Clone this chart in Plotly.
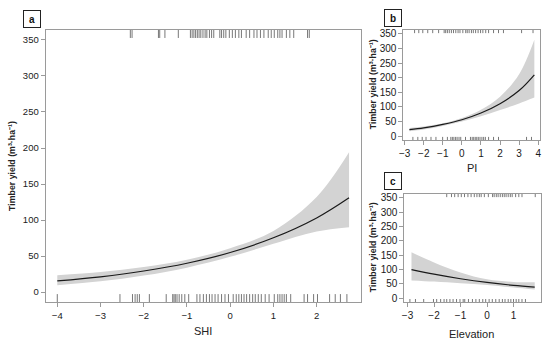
import plotly.graph_objects as go

# ---------------- data ----------------
# Panel a: SHI
shi_x = [-4, -3, -2, -1, 0, 1, 2, 2.75]
shi_fit = [15.6, 21.3, 29.3, 40.1, 55, 75.4, 103, 131]
shi_upper = [23.5, 28, 35, 45, 61, 85, 132, 194]
shi_lower = [9.6, 15, 23, 34, 49, 67, 84, 90]
shi_rug_top = [-2.31, -2.27, -1.66, -1.63, -1.51, -1.20, -0.92, -0.88, -0.84, -0.80, -0.76,
               -0.72, -0.68, -0.63, -0.58, -0.54, -0.48, -0.43, -0.38, -0.24, -0.20, -0.15,
               -0.10, -0.02, 0.05, 0.12, 0.20, 0.26, 0.37, 0.45, 0.55, 0.62, 0.70, 0.78,
               0.88, 0.95, 1.02, 1.10, 1.15, 1.20, 1.30, 1.38, 1.47, 1.79, 1.83]
shi_rug_bottom = [-4.0, -2.55, -2.26, -2.20, -2.15, -2.10, -1.87, -1.48, -1.33, -1.30, -1.27,
                  -1.23, -1.18, -1.12, -1.05, -0.96, -0.77, -0.70, -0.62, -0.55, -0.48, -0.42,
                  -0.35, -0.28, -0.20, -0.12, -0.04, 0.07, 0.14, 0.20, 0.26, 0.32, 0.38, 0.45,
                  0.52, 0.58, 0.65, 0.72, 0.81, 0.90, 1.02, 1.10, 1.15, 1.20, 1.25, 1.30, 1.40,
                  1.71, 1.79, 1.93, 2.02, 2.30, 2.43, 2.55, 2.70]

# Panel b: PI
pi_x = [-2.75, -2, -1, 0, 1, 2, 3, 3.8]
pi_fit = [22, 28, 40, 56, 79, 111, 156, 210]
pi_upper = [28, 33, 44, 62, 90, 135, 212, 330]
pi_lower = [17, 23, 35, 50, 68, 89, 112, 132]
pi_rug_top = [-2.48, -2.26, -2.05, -1.79, -1.53, -1.22, -0.93, -0.85, -0.76, -0.66, -0.55,
              -0.44, -0.32, -0.20, -0.10, 0.05, 0.20, 0.28, 0.38, 0.50, 0.60, 0.72, 0.85,
              0.98, 1.10, 1.25, 1.40, 1.66, 1.92, 2.18, 3.13, 3.73]
pi_rug_bottom = [-2.57, -2.31, -2.08, -1.88, -1.62, -1.36, -1.01, -0.76, -0.58, -0.50, -0.42,
                 -0.33, -0.25, -0.15, -0.06, 0.19, 0.45, 0.54, 0.62, 0.70, 0.78, 0.86, 0.95,
                 1.05, 1.14, 1.23, 1.40, 1.66, 1.92, 3.39, 3.65]

# Panel c: Elevation
elev_x = [-2.85, -2, -1, 0, 1, 1.8]
elev_fit = [100, 84, 68, 55, 45, 39]
elev_upper = [160, 125, 90, 66, 57, 56]
elev_lower = [62, 58, 52, 46, 37, 30]
elev_rug_top = [-1.52, -1.34, -1.22, -1.09, -0.97, -0.85, -0.72, -0.60, -0.48, -0.38, -0.29,
                -0.22, -0.10, 0.05, 0.21, 0.27, 0.35, 0.42, 0.50, 0.58, 0.65, 0.72, 0.80,
                0.88, 0.95, 1.08, 1.20, 1.32, 1.82]
elev_rug_bottom = [-2.91, -2.70, -2.39, -2.02, -1.90, -1.75, -1.62, -1.52, -1.40, -1.28, -1.15,
                   -1.02, -0.90, -0.84, -0.70, -0.55, -0.42, -0.29, -0.16, -0.05, 0.08, 0.20,
                   0.33, 0.46, 0.58, 0.68, 0.80, 0.90, 1.00, 1.10, 1.20, 1.32, 1.45]

y_ticks = [0, 50, 100, 150, 200, 250, 300, 350]
y_range = [-14, 364]
rug_len = 11.3

W, H = 550, 344
FONT = "Liberation Sans, Arial, sans-serif"
BAND = "#d3d3d3"
LINE = "#1a1a1a"
AX = "#9a9a9a"
RUG = "#555555"


def px_x(p):
    return p / W


def px_y(p):
    return 1 - p / H


fig = go.Figure()


def add_panel(idx, xs, fit, up, lo, rtop, rbot):
    xa = "x" if idx == 1 else f"x{idx}"
    ya = "y" if idx == 1 else f"y{idx}"
    fig.add_trace(go.Scatter(x=xs, y=up, mode="lines", line=dict(width=0, shape="spline", color=BAND),
                             hoverinfo="skip", showlegend=False, xaxis=xa, yaxis=ya))
    fig.add_trace(go.Scatter(x=xs, y=lo, mode="lines", line=dict(width=0, shape="spline", color=BAND),
                             fill="tonexty", fillcolor=BAND, hoverinfo="skip", showlegend=False,
                             xaxis=xa, yaxis=ya))
    fig.add_trace(go.Scatter(x=xs, y=fit, mode="lines", line=dict(width=1.2, shape="spline", color=LINE),
                             showlegend=False, xaxis=xa, yaxis=ya))
    rx, ry = [], []
    for v in rtop:
        rx += [v, v, None]
        ry += [y_range[1], y_range[1] - rug_len, None]
    for v in rbot:
        rx += [v, v, None]
        ry += [y_range[0], y_range[0] + rug_len, None]
    fig.add_trace(go.Scatter(x=rx, y=ry, mode="lines", line=dict(width=0.8, color=RUG),
                             hoverinfo="skip", showlegend=False, xaxis=xa, yaxis=ya))


add_panel(1, shi_x, shi_fit, shi_upper, shi_lower, shi_rug_top, shi_rug_bottom)
add_panel(2, pi_x, pi_fit, pi_upper, pi_lower, pi_rug_top, pi_rug_bottom)
add_panel(3, elev_x, elev_fit, elev_upper, elev_lower, elev_rug_top, elev_rug_bottom)


def axis(domain, rng, ticks, fs, anchor):
    return dict(domain=domain, range=rng, tickvals=ticks, showline=True, linecolor=AX, linewidth=1,
                mirror=True, ticks="outside", ticklen=4, tickcolor=AX, tickwidth=1, showgrid=False,
                zeroline=False, tickfont=dict(family=FONT, size=fs, color="#1a1a1a"), anchor=anchor)


layout = dict(
    width=W, height=H, margin=dict(l=0, r=0, t=0, b=0),
    paper_bgcolor="white", plot_bgcolor="white", showlegend=False,
    xaxis=axis([px_x(42), px_x(360)], [-4.27, 3.02], [-4, -3, -2, -1, 0, 1, 2], 9.5, "y"),
    yaxis=axis([px_y(303), px_y(29)], y_range, y_ticks, 9.5, "x"),
    xaxis2=axis([px_x(403), px_x(541)], [-3.07, 4.1], [-3, -2, -1, 0, 1, 2, 3, 4], 10, "y2"),
    yaxis2=axis([px_y(140), px_y(29)], y_range, y_ticks, 10, "x2"),
    xaxis3=axis([px_x(404), px_x(542)], [-3.12, 2.04], [-3, -2, -1, 0, 1], 10, "y3"),
    yaxis3=axis([px_y(303), px_y(194)], y_range, y_ticks, 10, "x3"),
)
fig.update_layout(**layout)

ytitle = "Timber yield (m³·ha⁻¹)"
ann = []
# panel letters
for letter, cx, cy in [("a", 28.5, 18), ("b", 393, 17.5), ("c", 393, 181.5)]:
    ann.append(dict(text=letter, x=px_x(cx), y=px_y(cy), xref="paper", yref="paper",
                    xanchor="center", yanchor="middle", showarrow=False, width=14, height=14,
                    bordercolor="#222", borderwidth=1, borderpad=1,
                    font=dict(family=FONT, size=10, color="#111", weight="bold")))
# y titles
for cx, cy in [(8, 166), (372, 84), (372, 248)]:
    ann.append(dict(text=ytitle, x=px_x(cx), y=px_y(cy), xref="paper", yref="paper",
                    xanchor="center", yanchor="middle", showarrow=False, textangle=-90,
                    font=dict(family=FONT, size=8.8, color="#222", weight="bold")))
# x titles
for t, cx, cy in [("SHI", 201, 332), ("PI", 472, 168), ("Elevation", 472, 335)]:
    ann.append(dict(text=t, x=px_x(cx), y=px_y(cy), xref="paper", yref="paper",
                    xanchor="center", yanchor="middle", showarrow=False,
                    font=dict(family=FONT, size=11, color="#222")))
fig.update_layout(annotations=ann)

fig.write_html("out.html", config={"responsive": False, "displayModeBar": False},
               post_script="document.body.style.margin='0';document.body.style.overflow='hidden';")
